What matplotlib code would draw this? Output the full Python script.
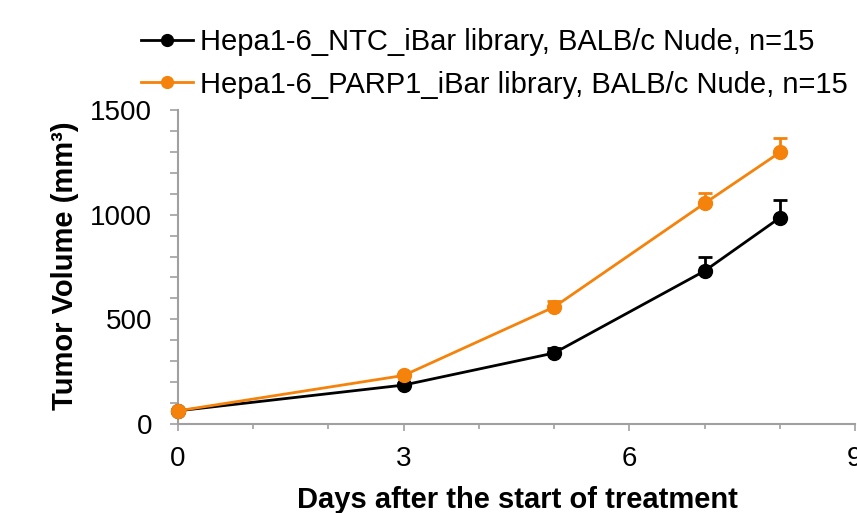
import matplotlib
matplotlib.use("Agg")
import matplotlib.pyplot as plt
from matplotlib.lines import Line2D
from matplotlib.ticker import MultipleLocator

plt.rcParams['font.family'] = ['Liberation Sans', 'DejaVu Sans']

days = [0, 3, 5, 7, 8]
ntc_mean = [63, 186, 339, 731, 985]
ntc_err = [5, 8, 22, 67, 83]
parp1_mean = [63, 232, 559, 1054, 1297]
parp1_err = [5, 8, 30, 48, 70]

ntc_label = "Hepa1-6_NTC_iBar library, BALB/c Nude, n=15"
parp1_label = "Hepa1-6_PARP1_iBar library, BALB/c Nude, n=15"

black = "#000000"
orange = "#F5820A"
spine_grey = "#A0A0A0"

W, H = 857, 513
fig = plt.figure(figsize=(W / 100, H / 100), dpi=100)
ax = fig.add_axes([178 / W, 89 / H, 677 / W, 314 / H])

series = [
    (ntc_mean, ntc_err, black, ntc_label, 3),
    (parp1_mean, parp1_err, orange, parp1_label, 4),
]
handles = []
for mean, err, color, label, z in series:
    ax.errorbar(days, mean, yerr=[[0] * len(err), err], color=color,
                lw=2.0, marker='o', markersize=10, capsize=4.7, capthick=2.0,
                elinewidth=2.0, zorder=z, clip_on=False)
    handles.append(Line2D([], [], color=color, lw=2.0, marker='o',
                          markersize=8.5, label=label))

ax.set_xlim(0, 9)
ax.set_ylim(0, 1500)
ax.xaxis.set_major_locator(MultipleLocator(3))
ax.xaxis.set_minor_locator(MultipleLocator(1))
ax.yaxis.set_major_locator(MultipleLocator(500))
ax.yaxis.set_minor_locator(MultipleLocator(100))

for side in ('top', 'right'):
    ax.spines[side].set_visible(False)
for side in ('left', 'bottom'):
    ax.spines[side].set_color(spine_grey)
    ax.spines[side].set_linewidth(1.5)

ax.tick_params(axis='both', which='both', direction='out', color=spine_grey,
               width=1.2, labelsize=20, labelcolor='black')
ax.tick_params(axis='x', which='major', length=5, pad=11)
ax.tick_params(axis='x', which='minor', length=3.6)
ax.tick_params(axis='y', which='both', length=5.8, pad=13)

ax.set_xlabel("Days after the start of treatment", fontsize=21,
              fontweight='bold')
ax.xaxis.set_label_coords(0.502, (424 - 486) / 314)
ax.set_ylabel("Tumor Volume (mm³)", fontsize=21, fontweight='bold')
ax.yaxis.set_label_coords((79 - 178) / 677, 0.505)

fig.legend(handles=handles, loc='upper left',
           bbox_to_anchor=(141 / W, 1 - 28 / H), frameon=False, fontsize=21,
           handlelength=1.78, handletextpad=0.25, labelspacing=0.5,
           borderaxespad=0, borderpad=0)

fig.savefig("out.png", dpi=100)
